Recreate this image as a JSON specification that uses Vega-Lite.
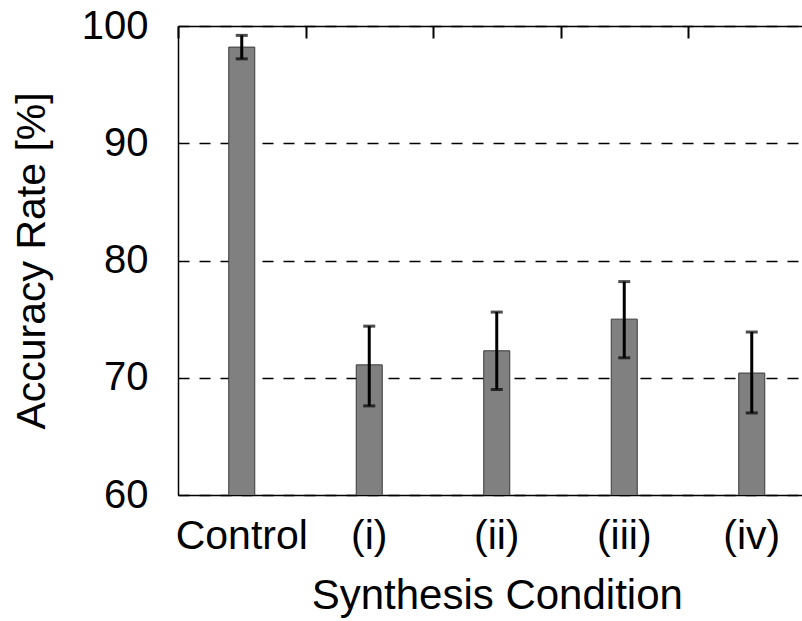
{
  "$schema": "https://vega.github.io/schema/vega-lite/v6.json",
  "autosize": {"type": "none"},
  "padding": {"left": 178, "top": 26, "right": 0, "bottom": 126},
  "width": 624,
  "height": 469,
  "background": "white",
  "config": {
    "view": {"stroke": null},
    "font": "Liberation Sans",
    "axis": {
      "labelFont": "Liberation Sans",
      "titleFont": "Liberation Sans",
      "labelFontSize": 40,
      "titleFontSize": 40,
      "labelColor": "black",
      "titleColor": "black",
      "titleFontWeight": "normal",
      "domainColor": "black",
      "domainWidth": 1.5,
      "tickColor": "black"
    }
  },
  "data": {
    "values": [
      {"condition": "Control", "mean": 98.2, "lo": 97.2, "hi": 99.2},
      {"condition": "(i)", "mean": 71.1, "lo": 67.6, "hi": 74.4},
      {"condition": "(ii)", "mean": 72.3, "lo": 69.0, "hi": 75.6},
      {"condition": "(iii)", "mean": 75.0, "lo": 71.7, "hi": 78.2},
      {"condition": "(iv)", "mean": 70.4, "lo": 67.0, "hi": 73.9}
    ]
  },
  "layer": [
    {
      "encoding": {
        "x": {
          "field": "condition",
          "type": "nominal",
          "sort": null,
          "scale": {"range": [0, 637.5], "paddingInner": 0, "paddingOuter": 0},
          "title": "Synthesis Condition",
          "axis": {
            "orient": "bottom",
            "labelAngle": 0,
            "ticks": false,
            "labelFontSize": 41,
            "titleFontSize": 42,
            "labelPadding": 21,
            "titlePadding": 19,
            "domainWidth": 1.5
          }
        }
      },
      "layer": [
        {
          "mark": {"type": "bar", "width": {"band": 0.204}, "fill": "#808080", "stroke": "#3a3a3a", "strokeWidth": 1, "clip": true},
          "encoding": {
            "y": {
              "field": "mean",
              "type": "quantitative",
              "scale": {"domain": [60, 100], "nice": false, "zero": false},
              "title": "Accuracy Rate [%]",
              "axis": {
                "values": [60, 70, 80, 90, 100],
                "tickSize": -10,
                "labelPadding": 40,
                "titlePadding": 28,
                "titleFontSize": 41,
                "grid": true,
                "gridColor": "black",
                "gridDash": [11, 10],
                "gridWidth": 1.5,
                "gridOpacity": 1
              }
            }
          }
        },
        {
          "mark": {"type": "rule", "color": "black", "strokeWidth": 3},
          "encoding": {
            "y": {"field": "lo", "type": "quantitative"},
            "y2": {"field": "hi"}
          }
        },
        {
          "mark": {"type": "tick", "color": "black", "size": 12, "thickness": 3},
          "encoding": {"y": {"field": "lo", "type": "quantitative"}}
        },
        {
          "mark": {"type": "tick", "color": "black", "size": 12, "thickness": 3},
          "encoding": {"y": {"field": "hi", "type": "quantitative"}}
        }
      ]
    },
    {
      "mark": {"type": "rule", "opacity": 0},
      "encoding": {
        "x": {
          "field": "condition",
          "type": "nominal",
          "sort": null,
          "scale": {"range": [0, 637.5], "paddingInner": 0, "paddingOuter": 0},
          "axis": {
            "orient": "top",
            "labels": false,
            "title": null,
            "tickBand": "extent",
            "tickSize": -12,
            "tickWidth": 2,
            "domainWidth": 1.5
          }
        }
      }
    }
  ],
  "resolve": {"axis": {"x": "independent"}}
}
